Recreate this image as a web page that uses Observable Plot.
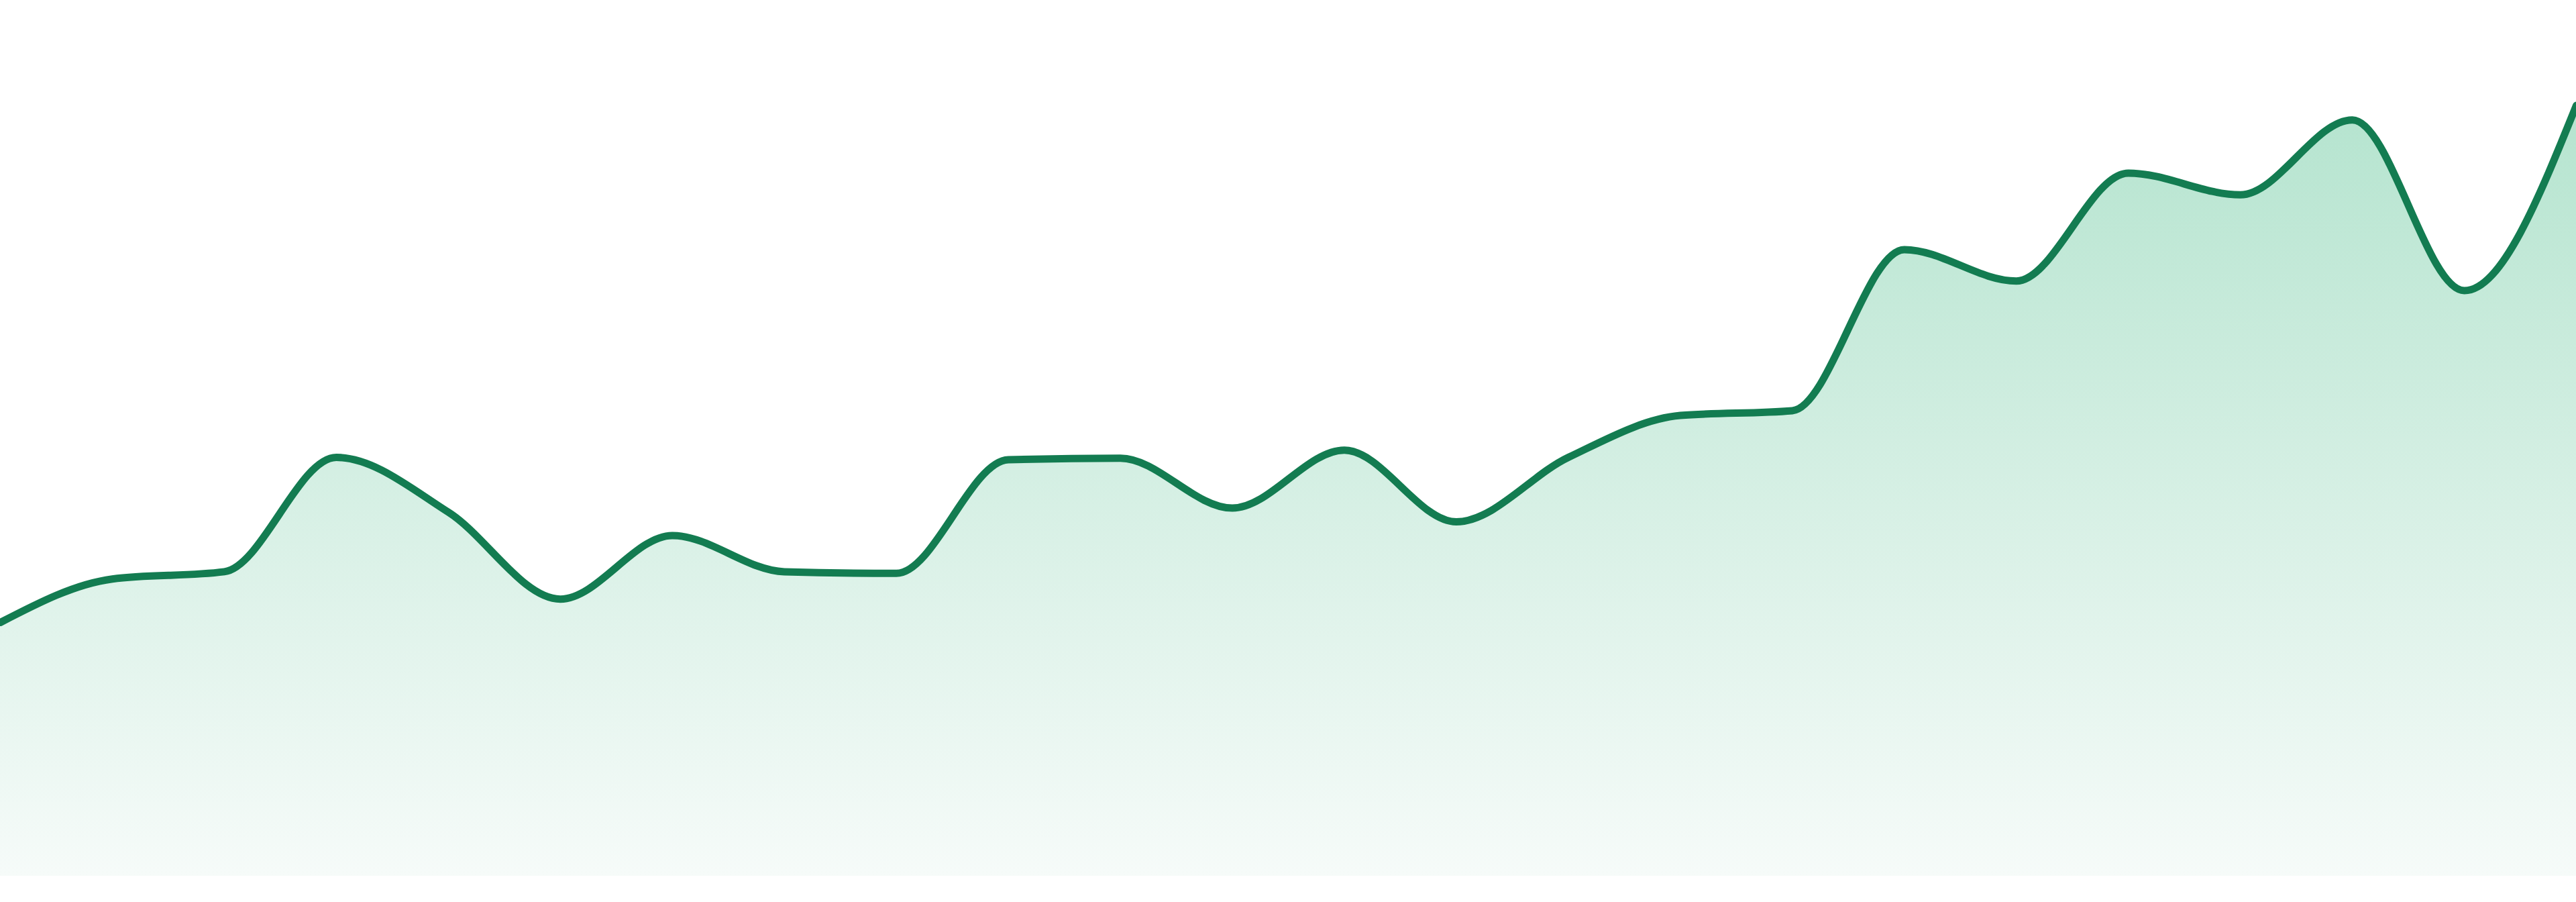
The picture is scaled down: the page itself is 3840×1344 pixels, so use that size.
<!DOCTYPE html>
<html>
<head>
<meta charset="utf-8">
<script src="https://cdn.jsdelivr.net/npm/d3@7"></script>
<script src="https://cdn.jsdelivr.net/npm/@observablehq/plot@0.6"></script>
<style>
  html, body { margin: 0; padding: 0; background: #ffffff; overflow: hidden; }
  #chart svg { display: block; }
</style>
</head>
<body>
<div id="chart"></div>
<script>
// Point index along the x axis (evenly spaced)
const steps = [0, 1, 2, 3, 4, 5, 6, 7, 8, 9, 10, 11, 12, 13, 14, 15, 16, 17, 18, 19, 20, 21, 22, 23];
// Series values
const values = [31.5, 36.9, 37.8, 52.0, 45.2, 34.4, 42.3, 37.8, 37.6, 51.7, 51.9, 45.7,
                52.9, 44.0, 52.0, 57.2, 57.8, 77.8, 73.9, 87.3, 84.6, 93.9, 72.7, 95.7];

const data = steps.map((s, i) => ({step: s, value: values[i]}));

const lineColor = "#137c51";
const gradTop = "#b5e4cf";
const gradBottom = "#f6fbf9";

const chart = Plot.plot({
  width: 3840,
  height: 1344,
  marginTop: 105,
  marginBottom: 39,
  marginLeft: 0,
  marginRight: 0,
  x: {domain: [0, 23], axis: null},
  y: {domain: [0, 100], axis: null},
  style: {background: "transparent", overflow: "visible"},
  marks: [
    Plot.areaY(data, {x: "step", y: "value", fill: "url(#areaGrad)", curve: "monotone-x"}),
    Plot.lineY(data, {x: "step", y: "value", stroke: lineColor, strokeWidth: 11, curve: "monotone-x", strokeLinejoin: "round"})
  ]
});

// gradient definition for the area fill
const ns = "http://www.w3.org/2000/svg";
const defs = document.createElementNS(ns, "defs");
const lg = document.createElementNS(ns, "linearGradient");
lg.setAttribute("id", "areaGrad");
lg.setAttribute("x1", "0"); lg.setAttribute("y1", "0");
lg.setAttribute("x2", "0"); lg.setAttribute("y2", "1");
[[0, gradTop], [1, gradBottom]].forEach(([o, c]) => {
  const st = document.createElementNS(ns, "stop");
  st.setAttribute("offset", o);
  st.setAttribute("stop-color", c);
  lg.appendChild(st);
});
defs.appendChild(lg);
chart.insertBefore(defs, chart.firstChild);

document.getElementById("chart").appendChild(chart);
</script>
</body>
</html>
